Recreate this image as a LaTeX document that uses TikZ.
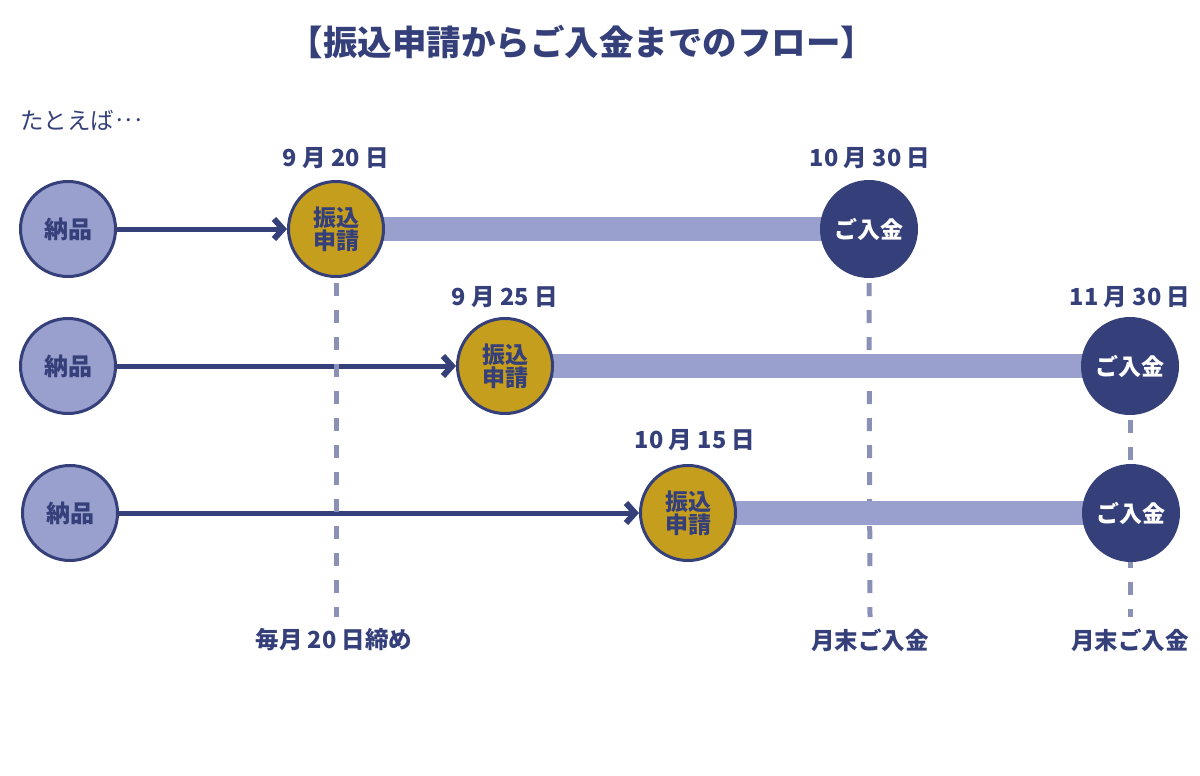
\documentclass[tikz,border=0pt]{standalone}
\usepackage{fontspec}
\setmainfont{Noto Sans CJK JP}
\usetikzlibrary{arrows.meta,backgrounds}
\definecolor{navy}{HTML}{35407A}
\definecolor{lav}{HTML}{9AA0CE}
\definecolor{gold}{HTML}{C59E1E}
\definecolor{dashc}{HTML}{8B90B7}
\begin{document}
\begin{tikzpicture}[x=1pt,y=-1pt,
  circ/.style={circle, minimum size=95pt, inner sep=0pt, line width=3pt, draw=navy},
  deliv/.style={circ, fill=lav, text=navy, font=\bfseries\fontsize{24}{26}\selectfont},
  apply/.style={circ, fill=gold, text=navy, align=center, font=\bfseries\fontsize{23}{23}\selectfont},
  paid/.style={circle, minimum size=98pt, inner sep=0pt, fill=navy, text=white, font=\bfseries\fontsize{23}{25}\selectfont},
  datelbl/.style={text=navy, inner sep=0pt, font=\bfseries\fontsize{23.5}{25}\selectfont},
  notelbl/.style={text=navy, inner sep=0pt, font=\bfseries\fontsize{23.5}{25}\selectfont},
  flowarrow/.style={draw=navy, line width=5pt, -{Straight Barb[length=9pt,width=20pt,line width=6pt]}},
  barline/.style={draw=lav, line width=24pt},
  dashline/.style={draw=dashc, line width=5pt, dash pattern=on 13pt off 14pt}
]
\useasboundingbox (0,0) rectangle (1200,776);

% title
\node[text=navy, inner sep=0pt, font=\bfseries\fontsize{34.5}{36}\selectfont] (title) at (582,42) {【振込申請からご入金までのフロー】};
\node[text=navy, inner sep=0pt, anchor=west, font=\fontsize{23.5}{25}\selectfont] (example) at (20,120) {たとえば\kern2pt\raisebox{0.33em}{.\kern3pt.\kern3pt.}};

% row 1
\node[deliv] (n1) at (68,229) {納品};
\node[apply] (s1) at (336,229) {振込\\申請};
\node[paid]  (p1) at (869,229) {ご入金};
% row 2
\node[deliv] (n2) at (68,366) {納品};
\node[apply] (s2) at (505,366) {振込\\申請};
\node[paid]  (p2) at (1130,366) {ご入金};
% row 3
\node[deliv] (n3) at (70,513) {納品};
\node[apply] (s3) at (688,513) {振込\\申請};
\node[paid]  (p3) at (1131,513) {ご入金};

% dates
\node[datelbl] (d1) at (336,158) {9 月 20 日};
\node[datelbl] (d2) at (870,158) {10 月 30 日};
\node[datelbl] (d3) at (505,297) {9 月 25 日};
\node[datelbl] (d4) at (1130,297) {11 月 30 日};
\node[datelbl] (d5) at (695,440) {10 月 15 日};

% bottom notes
\node[notelbl] (b1) at (334,640) {毎月 20 日締め};
\node[notelbl] (b2) at (870,640) {月末ご入金};
\node[notelbl] (b3) at (1130,640) {月末ご入金};

\coordinate (e1) at (336,617);
\coordinate (e2) at (870,617);
\coordinate (e3) at (1130,617);

\begin{scope}[on background layer]
  \draw[flowarrow] (n1) -- (s1);
  \draw[flowarrow] (n2) -- (s2);
  \draw[flowarrow] (n3) -- (s3);
  \draw[dashline] ([yshift=-5pt]s1.south) -- (e1);
  \draw[dashline] ([yshift=-5pt]p1.south) -- (e2);
  \draw[dashline] ([yshift=-5pt]p2.south) -- (e3);
  \draw[barline] (s1.center) -- (p1.center);
  \draw[barline] (s2.center) -- (p2.center);
  \draw[barline] (s3.center) -- (p3.center);
\end{scope}
\end{tikzpicture}
\end{document}
